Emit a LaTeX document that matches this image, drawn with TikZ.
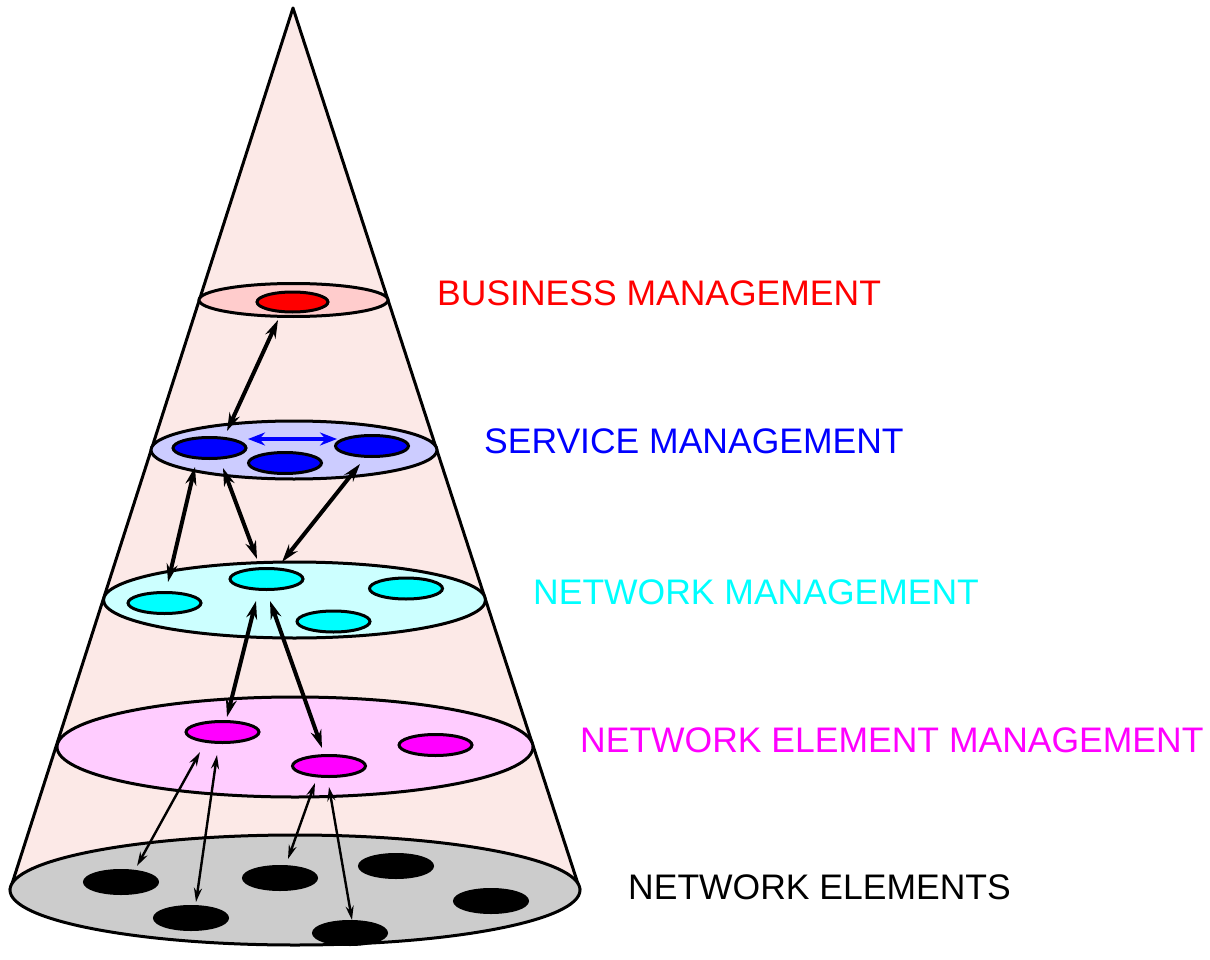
\documentclass[tikz,border=0pt]{standalone}
\usepackage{fontspec}
\setmainfont{Liberation Sans}
\usetikzlibrary{arrows.meta,shapes.geometric}
\definecolor{conefill}{RGB}{252,233,231}
\definecolor{bizplane}{RGB}{255,204,204}
\definecolor{srvplane}{RGB}{204,204,255}
\definecolor{netplane}{RGB}{204,255,255}
\definecolor{nemplane}{RGB}{255,204,255}
\definecolor{baseplane}{RGB}{204,204,204}
\definecolor{bizc}{RGB}{255,0,0}
\definecolor{srvc}{RGB}{0,0,255}
\definecolor{netc}{RGB}{0,255,255}
\definecolor{nemc}{RGB}{255,0,255}
\begin{document}
\begin{tikzpicture}[x=1pt,y=-1pt,
  plane/.style={ellipse,draw=black,line width=3pt,inner sep=0pt,outer sep=0pt},
  blob/.style={ellipse,draw=black,line width=3pt,inner sep=0pt,outer sep=0pt,minimum width=73pt,minimum height=21pt},
  thickarrow/.style={line width=4pt,{Stealth[length=18pt,width=11pt]}-{Stealth[length=18pt,width=11pt]}},
  thinarrow/.style={line width=2.4pt,{Stealth[length=14pt,width=8pt]}-{Stealth[length=14pt,width=8pt]}},
  label/.style={anchor=base west,inner sep=0pt,font=\fontsize{35.5}{40}\selectfont}]
\useasboundingbox (0,0) rectangle (1210,960);
% cone
\coordinate (apex) at (293,8);
\coordinate (bl) at (10,890);
\coordinate (br) at (580,890);
\fill[conefill] (apex) -- (bl) -- (br) -- cycle;
\draw[line width=3pt,line join=round] (bl) -- (apex) -- (br);
% planes
\node[plane,fill=baseplane,minimum width=570pt,minimum height=110pt] (base) at (295,890) {};
\node[plane,fill=nemplane,minimum width=476pt,minimum height=100pt] (nem) at (295,747) {};
\node[plane,fill=netplane,minimum width=382pt,minimum height=76pt] (net) at (294.5,600) {};
\node[plane,fill=srvplane,minimum width=286pt,minimum height=58pt] (srv) at (294,450) {};
\node[plane,fill=bizplane,minimum width=189pt,minimum height=33pt] (biz) at (293.5,300) {};
% blobs
\node[blob,fill=bizc,minimum width=71pt,minimum height=20pt] (b1) at (292.5,302) {};
\node[blob,fill=srvc] (s1) at (209.5,448) {};
\node[blob,fill=srvc] (s2) at (285,463) {};
\node[blob,fill=srvc] (s3) at (372,446) {};
\node[blob,fill=netc] (n1) at (266.5,579) {};
\node[blob,fill=netc] (n2) at (164.5,603) {};
\node[blob,fill=netc] (n3) at (406,588.5) {};
\node[blob,fill=netc] (n4) at (333.5,621.5) {};
\node[blob,fill=nemc] (m1) at (222.5,732) {};
\node[blob,fill=nemc] (m2) at (329,766) {};
\node[blob,fill=nemc] (m3) at (435.5,745) {};
\node[blob,fill=black,minimum height=23pt] (e1) at (121,882) {};
\node[blob,fill=black,minimum height=23pt] (e2) at (191,918) {};
\node[blob,fill=black,minimum height=23pt] (e3) at (280,878) {};
\node[blob,fill=black,minimum height=23pt] (e4) at (396,866) {};
\node[blob,fill=black,minimum height=23pt] (e5) at (350,933) {};
\node[blob,fill=black,minimum height=23pt] (e6) at (491,901) {};
% arrow end points
\coordinate (a1u) at (278,320); \coordinate (a1l) at (227,431);
\coordinate (a2u) at (195,467); \coordinate (a2l) at (168,582);
\coordinate (a3u) at (223,468); \coordinate (a3l) at (257,559);
\coordinate (a4u) at (360,464); \coordinate (a4l) at (282,562);
\coordinate (a5u) at (256,601); \coordinate (a5l) at (227,717);
\coordinate (a6u) at (270,601); \coordinate (a6l) at (322,748);
\coordinate (a7u) at (200,752); \coordinate (a7l) at (137,866);
\coordinate (a8u) at (217,755); \coordinate (a8l) at (196,902);
\coordinate (a9u) at (315,783); \coordinate (a9l) at (288,859);
\coordinate (a10u) at (329,787); \coordinate (a10l) at (352,920);
\coordinate (bsl) at (248,439); \coordinate (bsr) at (337,439);
% arrows
\draw[thickarrow] (a1u) -- (a1l);
\draw[thickarrow] (a2u) -- (a2l);
\draw[thickarrow] (a3u) -- (a3l);
\draw[thickarrow] (a4u) -- (a4l);
\draw[thickarrow] (a5u) -- (a5l);
\draw[thickarrow] (a6u) -- (a6l);
\draw[thinarrow] (a7u) -- (a7l);
\draw[thinarrow] (a8u) -- (a8l);
\draw[thinarrow] (a9u) -- (a9l);
\draw[thinarrow] (a10u) -- (a10l);
\draw[srvc,line width=3.6pt,{Stealth[length=17pt,width=13pt]}-{Stealth[length=17pt,width=13pt]}] (bsl) -- (bsr);
% labels
\node[label,text=bizc] (tbiz) at (437,305) {BUSINESS MANAGEMENT};
\node[label,text=srvc] (tsrv) at (484,453) {SERVICE MANAGEMENT};
\node[label,text=netc] (tnet) at (533,604) {NETWORK MANAGEMENT};
\node[label,text=nemc] (tnem) at (580,752) {NETWORK ELEMENT MANAGEMENT};
\node[label,text=black] (tbase) at (628,899) {NETWORK ELEMENTS};
\end{tikzpicture}
\end{document}
